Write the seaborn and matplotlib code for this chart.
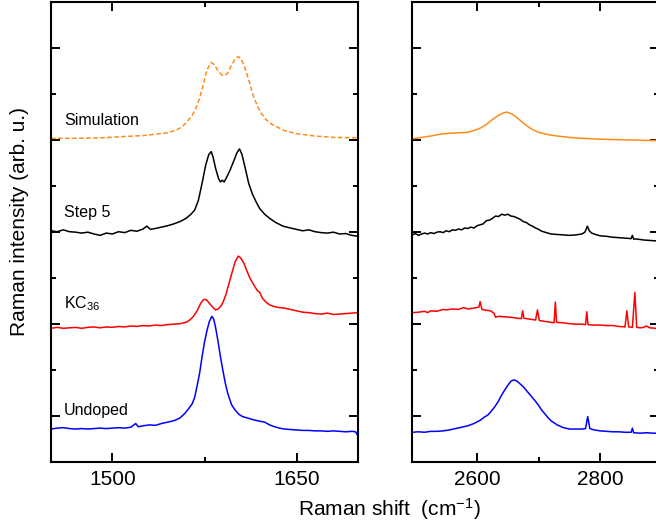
import numpy as np
import pandas as pd
import matplotlib
matplotlib.use("Agg")
import matplotlib.pyplot as plt
import seaborn as sns
from matplotlib.ticker import FixedLocator


# ---- data (x in cm^-1, y in arb. u. incl. offset) ----
# G band region
sim_g_x = [1450, 1470, 1490, 1510, 1525, 1535, 1545, 1552, 1557, 1561, 1565, 1568, 1571, 1574,
           1577, 1580.5, 1583, 1586, 1589, 1591, 1594, 1597, 1600, 1602.5, 1605, 1608, 1611,
           1615, 1620, 1625, 1630, 1640, 1650, 1665, 1680, 1700]
sim_g_y = [7.03, 7.03, 7.04, 7.07, 7.09, 7.12, 7.15, 7.21, 7.28, 7.40, 7.53, 7.68, 7.90, 8.20,
           8.52, 8.68, 8.63, 8.50, 8.41, 8.39, 8.45, 8.62, 8.76, 8.81, 8.75, 8.55, 8.30,
           7.93, 7.62, 7.44, 7.33, 7.20, 7.13, 7.08, 7.05, 7.04]

step5_g_x = [1450, 1455, 1460, 1465, 1470, 1475, 1480, 1485, 1490, 1495, 1500, 1505, 1510, 1515,
             1520, 1525, 1528, 1531, 1535, 1540, 1545, 1550, 1555, 1560, 1564, 1567, 1570, 1573,
             1576, 1578.5, 1580.5, 1582, 1584, 1586.5, 1588, 1589.5, 1591, 1593, 1596, 1599,
             1601.5, 1603.5, 1605.5, 1608, 1611, 1614, 1617, 1620, 1624, 1628, 1633, 1639, 1645,
             1650, 1655, 1660, 1665, 1670, 1675, 1680, 1685, 1690, 1695, 1700]
step5_g_y = [5.02, 5.00, 5.04, 5.00, 4.99, 4.97, 4.99, 4.95, 4.92, 4.97, 4.95, 5.00, 4.98, 5.03,
             5.01, 5.06, 5.12, 5.05, 5.07, 5.10, 5.13, 5.17, 5.22, 5.29, 5.38, 5.47, 5.68, 6.05,
             6.45, 6.68, 6.74, 6.62, 6.38, 6.15, 6.08, 6.12, 6.08, 6.18, 6.35, 6.55,
             6.72, 6.80, 6.68, 6.40, 6.05, 5.82, 5.65, 5.50, 5.38, 5.29, 5.20, 5.12, 5.08,
             5.05, 5.02, 5.04, 5.00, 4.98, 4.97, 4.99, 4.95, 4.96, 4.92, 4.90]

kc36_g_x = [1450, 1455, 1460, 1465, 1470, 1475, 1480, 1485, 1490, 1495, 1500, 1505, 1510, 1515,
            1520, 1525, 1530, 1535, 1540, 1545, 1550, 1555, 1560, 1563, 1566, 1569, 1572, 1574.5,
            1576.5, 1578.5, 1581, 1584, 1586, 1588, 1590, 1592.5, 1595, 1597.5, 1600, 1602.5,
            1604.5, 1607, 1609.5, 1612, 1615, 1618, 1620, 1622, 1625, 1628, 1632, 1636, 1640,
            1645, 1650, 1655, 1660, 1665, 1670, 1675, 1680, 1685, 1690, 1695, 1700]
kc36_g_y = [2.90, 2.92, 2.90, 2.91, 2.92, 2.90, 2.92, 2.93, 2.91, 2.93, 2.92, 2.94, 2.93, 2.95,
            2.94, 2.96, 2.95, 2.97, 2.96, 2.98, 2.99, 3.00, 3.03, 3.08, 3.16, 3.28, 3.45, 3.53,
            3.52, 3.46, 3.38, 3.30, 3.32, 3.37, 3.46, 3.64, 3.88, 4.12, 4.35, 4.47,
            4.43, 4.32, 4.15, 3.99, 3.85, 3.72, 3.68, 3.56, 3.47, 3.41, 3.37, 3.35, 3.34,
            3.31, 3.28, 3.25, 3.24, 3.22, 3.21, 3.23, 3.20, 3.21, 3.22, 3.23, 3.24]

undoped_g_x = [1450, 1455, 1460, 1465, 1470, 1475, 1480, 1485, 1490, 1495, 1500, 1505, 1510,
               1515, 1519, 1521, 1525, 1530, 1535, 1540, 1545, 1550, 1555, 1559, 1562, 1565,
               1567, 1569, 1571, 1573, 1575, 1577, 1579, 1581, 1582.5, 1584, 1586, 1588, 1590,
               1592, 1594, 1597, 1600, 1603, 1606, 1610, 1615, 1620, 1624, 1628, 1632, 1636,
               1640, 1645, 1650, 1655, 1660, 1665, 1670, 1675, 1680, 1685, 1690, 1695, 1698, 1700]
undoped_g_y = [0.71, 0.73, 0.74, 0.72, 0.71, 0.72, 0.71, 0.72, 0.73, 0.72, 0.73, 0.74, 0.73,
               0.75, 0.83, 0.76, 0.78, 0.80, 0.79, 0.83, 0.86, 0.89, 0.95, 1.05, 1.15, 1.26,
               1.40, 1.65, 1.92, 2.28, 2.60, 2.85, 3.05, 3.16, 3.10, 2.92, 2.62, 2.28, 1.98,
               1.70, 1.48, 1.24, 1.12, 1.03, 0.98, 0.95, 0.91, 0.88, 0.86, 0.80, 0.76, 0.73,
               0.71, 0.70, 0.69, 0.68, 0.68, 0.67, 0.67, 0.66, 0.67, 0.66, 0.65, 0.66, 0.65, 0.56]

# 2D band region
sim_2d_x = [2495, 2510, 2525, 2540, 2555, 2570, 2585, 2595, 2605, 2615, 2625, 2635, 2642, 2648,
            2655, 2662, 2670, 2680, 2690, 2700, 2715, 2730, 2750, 2770, 2800, 2830, 2860, 2895]
sim_2d_y = [7.02, 7.05, 7.08, 7.12, 7.14, 7.15, 7.16, 7.20, 7.25, 7.33, 7.44, 7.53, 7.58, 7.60,
            7.57, 7.51, 7.42, 7.31, 7.22, 7.16, 7.11, 7.08, 7.05, 7.03, 7.01, 7.00, 6.99, 6.98]

step5_2d_x = [2495, 2500, 2505, 2510, 2515, 2520, 2525, 2530, 2535, 2540, 2545, 2550, 2555, 2560,
              2565, 2570, 2575, 2580, 2585, 2590, 2595, 2600, 2605, 2610, 2615, 2620, 2625, 2630,
              2635, 2640, 2645, 2650, 2655, 2660, 2665, 2670, 2675, 2680, 2685, 2690, 2695, 2700,
              2705, 2710, 2715, 2720, 2730, 2740, 2750, 2760, 2770, 2775, 2779, 2782, 2786, 2792,
              2800, 2810, 2820, 2830, 2840, 2850, 2852, 2854, 2860, 2870, 2880, 2890, 2895]
step5_2d_y = [4.93, 4.96, 4.92, 4.95, 4.97, 4.95, 4.98, 4.96, 4.99, 5.00, 4.98, 5.02, 5.00, 5.04,
              5.03, 5.06, 5.04, 5.08, 5.07, 5.10, 5.08, 5.13, 5.15, 5.17, 5.24, 5.25, 5.29, 5.34,
              5.33, 5.38, 5.36, 5.38, 5.34, 5.33, 5.30, 5.27, 5.22, 5.20, 5.15, 5.12, 5.08, 5.05,
              5.01, 4.99, 4.97, 4.95, 4.94, 4.93, 4.92, 4.93, 4.95, 4.99, 5.12, 5.02, 4.97, 4.94,
              4.91, 4.90, 4.88, 4.87, 4.86, 4.85, 4.92, 4.84, 4.84, 4.82, 4.81, 4.80, 4.80]

kc36_2d_x = [2495, 2505, 2515, 2520, 2525, 2535, 2545, 2550, 2560, 2570, 2578, 2585, 2595, 2603,
             2605, 2608, 2615, 2622, 2628, 2630, 2635, 2645, 2655, 2665, 2672, 2674, 2676, 2685,
             2695, 2698, 2701, 2710, 2720, 2725, 2727, 2729, 2740, 2750, 2760, 2770, 2776, 2778,
             2780, 2790, 2800, 2810, 2820, 2830, 2840, 2843, 2846, 2852, 2856, 2859, 2865, 2870,
             2875, 2880, 2890, 2895]
kc36_2d_y = [3.24, 3.25, 3.27, 3.24, 3.28, 3.27, 3.31, 3.30, 3.32, 3.31, 3.35, 3.32, 3.34, 3.36,
             3.48, 3.31, 3.29, 3.28, 3.22, 3.14, 3.16, 3.15, 3.14, 3.12, 3.11, 3.28, 3.12, 3.10,
             3.08, 3.30, 3.07, 3.05, 3.03, 3.02, 3.47, 3.03, 3.02, 3.00, 2.99, 2.99, 2.98, 3.26,
             2.98, 2.97, 2.97, 2.96, 2.96, 2.94, 2.93, 3.28, 2.93, 2.92, 3.68, 2.92, 2.91, 2.92,
             2.95, 2.91, 2.90, 2.91]

undoped_2d_x = [2495, 2505, 2515, 2525, 2535, 2545, 2555, 2565, 2575, 2585, 2595, 2605, 2612, 2618,
                2622, 2628, 2634, 2640, 2645, 2650, 2655, 2660, 2665, 2670, 2675, 2680, 2685, 2690,
                2695, 2700, 2705, 2710, 2715, 2720, 2730, 2740, 2750, 2760, 2770, 2776, 2779.5,
                2783, 2790, 2800, 2810, 2820, 2830, 2840, 2850, 2852, 2854, 2865, 2875, 2885, 2895]
undoped_2d_y = [0.64, 0.65, 0.64, 0.66, 0.66, 0.67, 0.69, 0.72, 0.75, 0.78, 0.83, 0.90, 0.97, 1.02,
                1.08, 1.18, 1.30, 1.45, 1.56, 1.66, 1.75, 1.78, 1.75, 1.69, 1.63, 1.55, 1.47, 1.39,
                1.31, 1.22, 1.12, 1.04, 0.96, 0.89, 0.80, 0.74, 0.71, 0.71, 0.71, 0.72, 0.98,
                0.72, 0.69, 0.67, 0.66, 0.65, 0.65, 0.64, 0.64, 0.73, 0.63, 0.62, 0.63, 0.62, 0.62]

labels = ["Simulation", "Step 5", "KC$_{36}$", "Undoped"]
label_y = [7.42, 5.41, 3.43, 1.12]
colors = ["#ff8c1a", "#000000", "#ff0000", "#0000ff"]


# ---- style ----
sns.set_style("ticks", rc={"axes.edgecolor": "black", "xtick.color": "black",
                           "ytick.color": "black", "text.color": "black",
                           "axes.labelcolor": "black"})
plt.rcParams["font.family"] = ["Liberation Sans", "DejaVu Sans"]
plt.rcParams["mathtext.fontset"] = "custom"
plt.rcParams["mathtext.rm"] = "Liberation Sans"
plt.rcParams["mathtext.it"] = "Liberation Sans:italic"
plt.rcParams["mathtext.default"] = "rm"

fig = plt.figure(figsize=(6.56, 5.27), dpi=100)
ax_g = fig.add_axes([51 / 656, 1 - 461.7 / 527, 307 / 656, 460 / 527])
ax_2d = fig.add_axes([412.3 / 656, 1 - 461.7 / 527, 246.6 / 656, 460 / 527])

g_series = [(sim_g_x, sim_g_y), (step5_g_x, step5_g_y), (kc36_g_x, kc36_g_y), (undoped_g_x, undoped_g_y)]
d_series = [(sim_2d_x, sim_2d_y), (step5_2d_x, step5_2d_y), (kc36_2d_x, kc36_2d_y), (undoped_2d_x, undoped_2d_y)]

for i, ((gx, gy), (dx, dy)) in enumerate(zip(g_series, d_series)):
    ls = (0, (3, 1.6)) if i == 0 else "-"
    sns.lineplot(x=gx, y=gy, ax=ax_g, color=colors[i], lw=1.1, linestyle=ls)
    sns.lineplot(x=dx, y=dy, ax=ax_2d, color=colors[i], lw=1.1)
    ax_g.text(1460.6, label_y[i], labels[i], fontsize=11.5, ha="left", va="center")

ax_g.set_xlim(1450, 1700)
ax_2d.set_xlim(2495, 2895)

for ax, maj, mnr in [(ax_g, [1500, 1650], [1575]), (ax_2d, [2600, 2800], [2700])]:
    ax.set_ylim(0, 10)
    ax.xaxis.set_major_locator(FixedLocator(maj))
    ax.xaxis.set_minor_locator(FixedLocator(mnr))
    ax.yaxis.set_major_locator(FixedLocator([1, 3, 5, 7, 9]))
    ax.yaxis.set_minor_locator(FixedLocator([2, 4, 6, 8]))
    ax.set_yticklabels([])
    ax.tick_params(which="both", direction="in", top=True, right=True, width=1.4)
    ax.tick_params(which="major", length=6.5, labelsize=15, pad=6)
    ax.tick_params(which="minor", length=3.8)
    for sp in ax.spines.values():
        sp.set_linewidth(1.5)
        sp.set_color("black")
    ax.set_xlabel("")
    ax.set_ylabel("")

fig.text(389 / 656, 1 - 509 / 527, "Raman shift  (cm$^{-1}$)", fontsize=15, ha="center", va="center")
fig.text(20 / 656, 1 - 222 / 527, "Raman intensity (arb. u.)", fontsize=15, rotation=90,
         ha="center", va="center")

fig.savefig("out.png", dpi=100)
plt.close(fig)
